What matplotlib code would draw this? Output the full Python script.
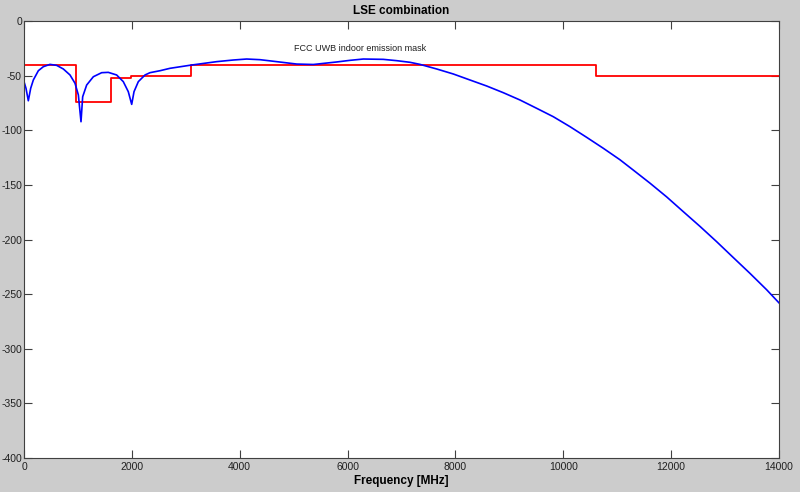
import matplotlib
matplotlib.use('Agg')
import matplotlib.pyplot as plt

plt.rcParams['font.family'] = ['Liberation Sans', 'DejaVu Sans']
plt.rcParams['axes.unicode_minus'] = False

# FCC indoor mask (step edges, MHz / dB)
mask_freq = [0, 960, 960, 1610, 1610, 1990, 1990, 3100, 3100, 10600, 10600, 14000]
mask_level = [-40.3, -40.3, -74.3, -74.3, -52.3, -52.3, -50.3, -50.3, -40.3, -40.3, -50.3, -50.3]

# LSE combination spectrum
lse_freq = [0, 37, 80, 124, 173, 266, 359, 482, 606, 729, 853, 946, 1008, 1057,
            1088, 1162, 1286, 1440, 1563, 1718, 1841, 1934, 1997, 2040, 2120,
            2244, 2336, 2522, 2707, 3078, 3573, 3881, 4129, 4376, 4685, 5057,
            5365, 5798, 6045, 6292, 6662, 6910, 7157, 7343, 7652, 7961, 8270,
            8580, 8887, 9197, 9506, 9815, 10124, 10434, 10742, 11051, 11299,
            11607, 11917, 12225, 12535, 12844, 13152, 13462, 13771, 14000]
lse_level = [-55.5, -61.6, -73.0, -61.6, -54.0, -45.5, -41.8, -39.7, -40.6, -43.9,
             -49.4, -57.0, -67.7, -92.2, -69.3, -58.6, -51.0, -47.3, -47.0, -49.4,
             -55.5, -64.7, -76.3, -64.7, -55.5, -49.4, -47.3, -45.5, -43.3, -40.5,
             -37.2, -35.7, -34.8, -35.4, -37.2, -39.4, -39.8, -37.5, -36.0, -34.8,
             -35.1, -36.3, -37.8, -39.7, -43.9, -48.5, -54.0, -59.5, -65.6, -72.3,
             -79.9, -87.6, -96.7, -106.5, -116.5, -127.0, -136.5, -148.4, -161.0,
             -174.5, -188.0, -202.0, -216.5, -231.0, -246.0, -258.0]

x_ticks = list(range(0, 14001, 2000))
y_ticks = list(range(-400, 1, 50))

fig = plt.figure(figsize=(8, 4.92), dpi=100, facecolor='#cccccc')
ax = fig.add_axes([0.03, 0.0691, 0.94375, 0.8882])
ax.set_facecolor('white')

ax.plot(mask_freq, mask_level, color='#ff0000', lw=1.3)
ax.plot(lse_freq, lse_level, color='#0000ff', lw=1.2)

ax.text(5000, -25, 'FCC UWB indoor emission mask', fontsize=6.5, color='#202020',
        ha='left', va='center')

ax.set_xlim(0, 14000)
ax.set_ylim(-400, 0)
ax.set_xticks(x_ticks)
ax.set_yticks(y_ticks)
ax.tick_params(direction='in', length=5.5, width=0.8, color='#404040',
               labelsize=7.5, labelcolor='#202020', top=True, right=True)
ax.tick_params(axis='y', pad=1.5)
ax.tick_params(axis='x', pad=3)
for sp in ax.spines.values():
    sp.set_color('#404040')
    sp.set_linewidth(0.8)

ax.set_title('LSE combination', fontsize=8.5, fontweight='bold', pad=5)
ax.set_xlabel('Frequency [MHz]', fontsize=8.5, fontweight='bold', labelpad=2)

fig.savefig('out.png', dpi=100, facecolor=fig.get_facecolor())
